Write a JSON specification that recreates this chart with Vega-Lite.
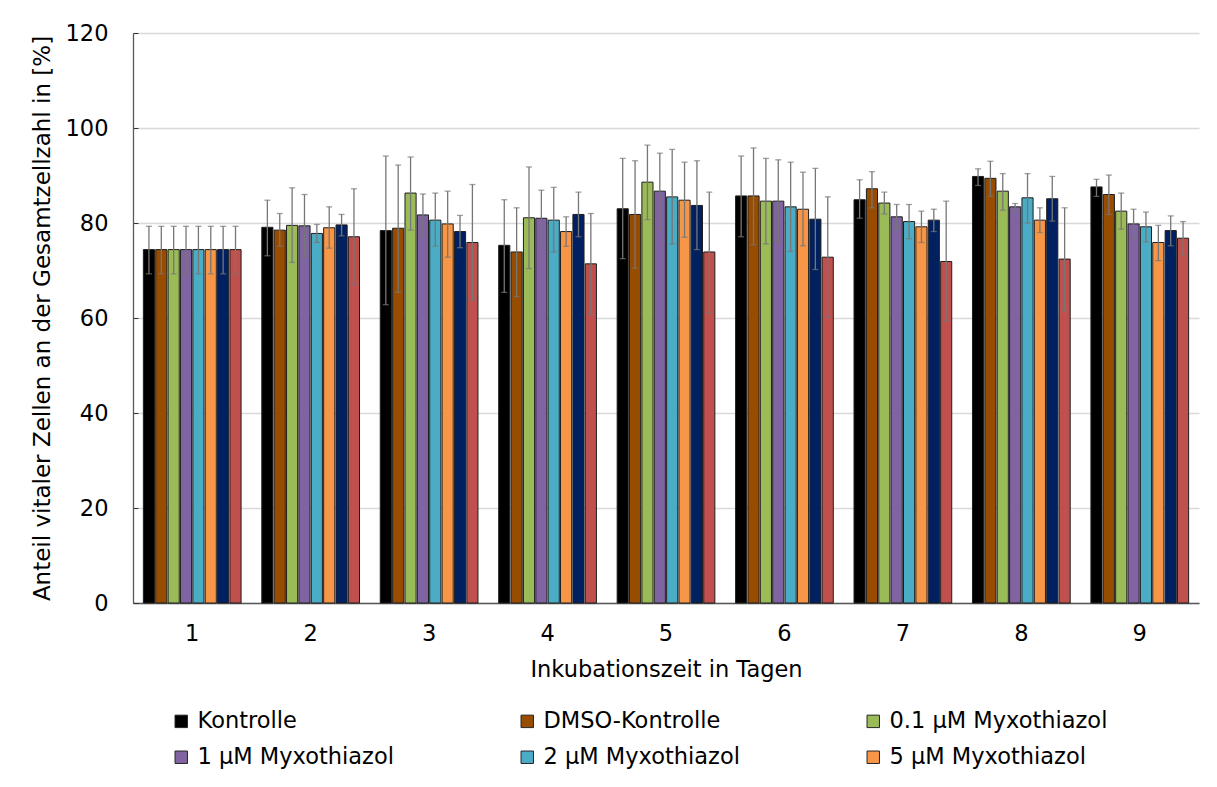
{
  "$schema": "https://vega.github.io/schema/vega-lite/v6.json",
  "width": 1066,
  "height": 570,
  "autosize": {"type": "none"},
  "padding": {"left": 133, "top": 33, "right": 18, "bottom": 184},
  "background": "white",
  "config": {
    "font": "DejaVu Sans",
    "view": {"stroke": null},
    "axis": {
      "labelFont": "DejaVu Sans",
      "titleFont": "DejaVu Sans",
      "labelFontSize": 22.5,
      "titleFontSize": 22.5,
      "labelColor": "#000000",
      "titleColor": "#000000",
      "titleFontWeight": "normal",
      "domainColor": "#595959",
      "domainWidth": 1.3
    },
    "legend": {
      "labelFont": "DejaVu Sans",
      "labelFontSize": 22.5,
      "labelColor": "#000000"
    }
  },
  "data": {
    "values": [
      {"day": "1", "series": "Kontrolle", "value": 74.4, "lo": 69.3, "hi": 79.3},
      {"day": "1", "series": "DMSO-Kontrolle", "value": 74.4, "lo": 69.3, "hi": 79.3},
      {"day": "1", "series": "0.1 µM Myxothiazol", "value": 74.4, "lo": 69.3, "hi": 79.3},
      {"day": "1", "series": "1 µM Myxothiazol", "value": 74.4, "lo": 69.3, "hi": 79.3},
      {"day": "1", "series": "2 µM Myxothiazol", "value": 74.4, "lo": 69.3, "hi": 79.3},
      {"day": "1", "series": "5 µM Myxothiazol", "value": 74.4, "lo": 69.3, "hi": 79.3},
      {"day": "1", "series": "10 µM Myxothiazol", "value": 74.4, "lo": 69.3, "hi": 79.3},
      {"day": "1", "series": "20 µM Myxothiazol", "value": 74.4, "lo": 69.3, "hi": 79.3},

      {"day": "2", "series": "Kontrolle", "value": 79.1, "lo": 73.1, "hi": 84.8},
      {"day": "2", "series": "DMSO-Kontrolle", "value": 78.5, "lo": 75.1, "hi": 82.0},
      {"day": "2", "series": "0.1 µM Myxothiazol", "value": 79.5, "lo": 71.7, "hi": 87.4},
      {"day": "2", "series": "1 µM Myxothiazol", "value": 79.4, "lo": 72.8, "hi": 86.0},
      {"day": "2", "series": "2 µM Myxothiazol", "value": 77.8, "lo": 75.9, "hi": 79.7},
      {"day": "2", "series": "5 µM Myxothiazol", "value": 79.0, "lo": 74.7, "hi": 83.4},
      {"day": "2", "series": "10 µM Myxothiazol", "value": 79.6, "lo": 77.3, "hi": 81.8},
      {"day": "2", "series": "20 µM Myxothiazol", "value": 77.1, "lo": 67.0, "hi": 87.2},

      {"day": "3", "series": "Kontrolle", "value": 78.4, "lo": 62.8, "hi": 94.1},
      {"day": "3", "series": "DMSO-Kontrolle", "value": 78.9, "lo": 65.4, "hi": 92.2},
      {"day": "3", "series": "0.1 µM Myxothiazol", "value": 86.3, "lo": 78.5, "hi": 93.9},
      {"day": "3", "series": "1 µM Myxothiazol", "value": 81.7, "lo": 77.1, "hi": 86.1},
      {"day": "3", "series": "2 µM Myxothiazol", "value": 80.6, "lo": 75.1, "hi": 86.3},
      {"day": "3", "series": "5 µM Myxothiazol", "value": 79.8, "lo": 72.8, "hi": 86.7},
      {"day": "3", "series": "10 µM Myxothiazol", "value": 78.2, "lo": 74.8, "hi": 81.6},
      {"day": "3", "series": "20 µM Myxothiazol", "value": 75.9, "lo": 63.8, "hi": 88.1},

      {"day": "4", "series": "Kontrolle", "value": 75.3, "lo": 65.4, "hi": 84.9},
      {"day": "4", "series": "DMSO-Kontrolle", "value": 73.9, "lo": 64.5, "hi": 83.2},
      {"day": "4", "series": "0.1 µM Myxothiazol", "value": 81.1, "lo": 70.4, "hi": 91.8},
      {"day": "4", "series": "1 µM Myxothiazol", "value": 81.0, "lo": 75.2, "hi": 86.9},
      {"day": "4", "series": "2 µM Myxothiazol", "value": 80.6, "lo": 73.9, "hi": 87.5},
      {"day": "4", "series": "5 µM Myxothiazol", "value": 78.2, "lo": 75.1, "hi": 81.3},
      {"day": "4", "series": "10 µM Myxothiazol", "value": 81.8, "lo": 77.1, "hi": 86.5},
      {"day": "4", "series": "20 µM Myxothiazol", "value": 71.4, "lo": 60.7, "hi": 82.0},

      {"day": "5", "series": "Kontrolle", "value": 83.0, "lo": 72.5, "hi": 93.6},
      {"day": "5", "series": "DMSO-Kontrolle", "value": 81.8, "lo": 70.5, "hi": 93.1},
      {"day": "5", "series": "0.1 µM Myxothiazol", "value": 88.6, "lo": 80.7, "hi": 96.4},
      {"day": "5", "series": "1 µM Myxothiazol", "value": 86.7, "lo": 78.7, "hi": 94.7},
      {"day": "5", "series": "2 µM Myxothiazol", "value": 85.5, "lo": 75.6, "hi": 95.5},
      {"day": "5", "series": "5 µM Myxothiazol", "value": 84.8, "lo": 77.0, "hi": 92.8},
      {"day": "5", "series": "10 µM Myxothiazol", "value": 83.7, "lo": 74.4, "hi": 93.1},
      {"day": "5", "series": "20 µM Myxothiazol", "value": 73.9, "lo": 61.1, "hi": 86.5},

      {"day": "6", "series": "Kontrolle", "value": 85.7, "lo": 77.1, "hi": 94.1},
      {"day": "6", "series": "DMSO-Kontrolle", "value": 85.7, "lo": 75.4, "hi": 95.8},
      {"day": "6", "series": "0.1 µM Myxothiazol", "value": 84.6, "lo": 75.6, "hi": 93.6},
      {"day": "6", "series": "1 µM Myxothiazol", "value": 84.6, "lo": 75.9, "hi": 93.3},
      {"day": "6", "series": "2 µM Myxothiazol", "value": 83.4, "lo": 74.0, "hi": 92.8},
      {"day": "6", "series": "5 µM Myxothiazol", "value": 82.9, "lo": 75.2, "hi": 90.7},
      {"day": "6", "series": "10 µM Myxothiazol", "value": 80.8, "lo": 70.2, "hi": 91.5},
      {"day": "6", "series": "20 µM Myxothiazol", "value": 72.8, "lo": 60.2, "hi": 85.5},

      {"day": "7", "series": "Kontrolle", "value": 84.9, "lo": 81.0, "hi": 89.1},
      {"day": "7", "series": "DMSO-Kontrolle", "value": 87.2, "lo": 83.2, "hi": 90.8},
      {"day": "7", "series": "0.1 µM Myxothiazol", "value": 84.2, "lo": 81.9, "hi": 86.5},
      {"day": "7", "series": "1 µM Myxothiazol", "value": 81.3, "lo": 78.6, "hi": 83.9},
      {"day": "7", "series": "2 µM Myxothiazol", "value": 80.3, "lo": 76.7, "hi": 83.9},
      {"day": "7", "series": "5 µM Myxothiazol", "value": 79.2, "lo": 75.9, "hi": 82.5},
      {"day": "7", "series": "10 µM Myxothiazol", "value": 80.6, "lo": 78.2, "hi": 82.9},
      {"day": "7", "series": "20 µM Myxothiazol", "value": 71.9, "lo": 59.4, "hi": 84.6},

      {"day": "8", "series": "Kontrolle", "value": 89.8, "lo": 87.9, "hi": 91.4},
      {"day": "8", "series": "DMSO-Kontrolle", "value": 89.4, "lo": 85.6, "hi": 93.0},
      {"day": "8", "series": "0.1 µM Myxothiazol", "value": 86.7, "lo": 82.7, "hi": 90.4},
      {"day": "8", "series": "1 µM Myxothiazol", "value": 83.4, "lo": 82.5, "hi": 84.1},
      {"day": "8", "series": "2 µM Myxothiazol", "value": 85.3, "lo": 80.0, "hi": 90.4},
      {"day": "8", "series": "5 µM Myxothiazol", "value": 80.6, "lo": 78.0, "hi": 83.2},
      {"day": "8", "series": "10 µM Myxothiazol", "value": 85.1, "lo": 80.4, "hi": 89.8},
      {"day": "8", "series": "20 µM Myxothiazol", "value": 72.4, "lo": 61.5, "hi": 83.2},

      {"day": "9", "series": "Kontrolle", "value": 87.6, "lo": 85.6, "hi": 89.2},
      {"day": "9", "series": "DMSO-Kontrolle", "value": 86.0, "lo": 81.8, "hi": 90.1},
      {"day": "9", "series": "0.1 µM Myxothiazol", "value": 82.5, "lo": 78.7, "hi": 86.3},
      {"day": "9", "series": "1 µM Myxothiazol", "value": 79.8, "lo": 76.8, "hi": 82.9},
      {"day": "9", "series": "2 µM Myxothiazol", "value": 79.2, "lo": 76.0, "hi": 82.3},
      {"day": "9", "series": "5 µM Myxothiazol", "value": 75.9, "lo": 72.1, "hi": 79.5},
      {"day": "9", "series": "10 µM Myxothiazol", "value": 78.4, "lo": 75.2, "hi": 81.5},
      {"day": "9", "series": "20 µM Myxothiazol", "value": 76.8, "lo": 73.3, "hi": 80.3}
    ]
  },
  "encoding": {
    "x": {
      "field": "day",
      "type": "nominal",
      "scale": {"paddingInner": 0.175, "paddingOuter": 0.0875},
      "axis": {
        "title": "Inkubationszeit in Tagen",
        "labelAngle": 0,
        "ticks": false,
        "labelPadding": 19,
        "titlePadding": 14
      }
    },
    "xOffset": {
      "field": "series",
      "type": "nominal",
      "sort": ["Kontrolle", "DMSO-Kontrolle", "0.1 µM Myxothiazol", "1 µM Myxothiazol", "2 µM Myxothiazol", "5 µM Myxothiazol", "10 µM Myxothiazol", "20 µM Myxothiazol"],
      "scale": {"paddingInner": 0.1, "paddingOuter": 0}
    }
  },
  "layer": [
    {
      "mark": {"type": "bar", "stroke": "#1e1e1e", "strokeWidth": 1},
      "encoding": {
        "y": {
          "field": "value",
          "type": "quantitative",
          "title": "Anteil vitaler Zellen an der Gesamtzellzahl in [%]",
          "scale": {"domain": [0, 120], "nice": false},
          "axis": {
            "values": [0, 20, 40, 60, 80, 100, 120],
            "grid": true,
            "gridColor": "#d9d9d9",
            "gridWidth": 1.3,
            "tickColor": "#333333",
            "tickSize": -5,
            "labelPadding": 30,
            "titlePadding": 11,
            "titleFontSize": 23
          }
        },
        "color": {
          "field": "series",
          "type": "nominal",
          "scale": {
            "domain": ["Kontrolle", "DMSO-Kontrolle", "0.1 µM Myxothiazol", "1 µM Myxothiazol", "2 µM Myxothiazol", "5 µM Myxothiazol", "10 µM Myxothiazol", "20 µM Myxothiazol"],
            "range": ["#000000", "#974C00", "#9BBB59", "#8064A2", "#4BACC6", "#F79646", "#002060", "#C0504D"]
          },
          "legend": {
            "title": null,
            "orient": "none",
            "legendX": 37,
            "legendY": 677,
            "direction": "horizontal",
            "columns": 3,
            "gridAlign": "all",
            "columnPadding": 100,
            "rowPadding": 13,
            "symbolType": "square",
            "symbolSize": 155,
            "symbolStrokeColor": "#262626",
            "symbolStrokeWidth": 1,
            "labelOffset": 5,
            "labelLimit": 400,
            "values": ["Kontrolle", "DMSO-Kontrolle", "0.1 µM Myxothiazol", "1 µM Myxothiazol", "2 µM Myxothiazol", "5 µM Myxothiazol"],
            "labelExpr": "datum.label == '0.1 µM Myxothiazol' ? '\u00a00.1 µM Myxothiazol' : datum.label"
          }
        }
      }
    },
    {
      "mark": {"type": "rule", "color": "#767676", "strokeWidth": 1.3},
      "encoding": {
        "y": {"field": "lo", "type": "quantitative", "title": "Anteil vitaler Zellen an der Gesamtzellzahl in [%]"},
        "y2": {"field": "hi"}
      }
    },
    {
      "mark": {"type": "tick", "color": "#767676", "size": 6, "thickness": 1.3},
      "encoding": {
        "y": {"field": "lo", "type": "quantitative", "title": "Anteil vitaler Zellen an der Gesamtzellzahl in [%]"}
      }
    },
    {
      "mark": {"type": "tick", "color": "#767676", "size": 6, "thickness": 1.3},
      "encoding": {
        "y": {"field": "hi", "type": "quantitative", "title": "Anteil vitaler Zellen an der Gesamtzellzahl in [%]"}
      }
    }
  ]
}
